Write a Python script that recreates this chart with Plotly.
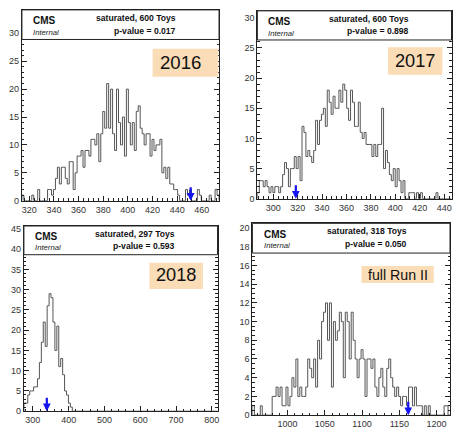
import numpy as np
import plotly.graph_objects as go

# ---------------- data ----------------
labels = ["2016", "2017", "2018", "full Run II"]
toys = [600, 600, 297, 318]
pvalues = ["0.017", "0.898", "0.593", "0.050"]
observed = [451, 318.5, 339, 1162]          # observed test statistic (blue arrows)
x_ranges = [(314, 474), (287, 446), (275, 816), (953, 1218)]

counts_2016 = [1,0,0,0,0,1,0,0,2,0, 0,0,0,2,2,1,2,4,6,3,
               6,6,4,3,7,7,2,5,8,8, 9,6,9,9,8,11,11,10,12,7,
               12,16,13,21,13,20,12,9,20,14, 10,15,8,20,14,10,14,9,16,17,
               13,12,10,12,12,8,11,9,10,10, 11,5,6,4,6,3,3,2,2,1,
               0,0,0,2,1,2,0,0,0,2, 1,0,0,0,0,1,0,0,2,1]
counts_2017 = [1,3,3,2,3,2,1,2,1,2, 2,1,2,4,6,5,2,5,5,7,
               5,7,3,12,11,7,8,7,6,8, 13,9,13,14,15,12,18,16,14,17,
               15,15,18,16,19,18,15,13,18,16, 12,12,16,11,10,11,9,9,9,7,
               9,7,9,9,15,5,8,6,4,3, 5,2,5,3,1,3,0,0,1,1,
               1,0,1,0,1,0,0,0,0,0, 0,0,1,0,0,0,0,0,0,0]
counts_2018 = [2,2,4,5,5,6,6,8,12,17, 22,16,26,29,28,22,15,21,11,13,
               9,5,4,2,1] + [0] * 75
counts_run2 = [1,0,0,0,1,0,0,0,0,0, 2,2,3,2,3,1,1,3,1,2,
               4,3,6,2,3,2,2,3,6,5, 4,6,3,8,6,10,11,12,8,12,
               3,10,8,9,11,10,4,11,10,6, 11,8,6,4,6,7,6,2,6,6,
               5,6,3,2,4,5,3,2,5,6, 4,3,2,3,2,1,2,2,1,3,
               3,1,3,1,1,1,0,1,0,1, 0,0,0,0,0,0,0,1,1,0]
all_counts = [counts_2016, counts_2017, counts_2018, counts_run2]

# ---------------- layout helpers ----------------
y_max = [34.2, 31.15, 45.7, 20.5]
x_dtick = [20, 20, 100, 50]
x_minor = [4, 4, 20, 10]
y_dtick = [5, 5, 5, 2]
y_minor = [1, 1, 1, 0.5]
x_dom = [(0.0485, 0.4846), (0.5694, 0.9989), (0.0529, 0.4813), (0.5584, 0.9956)]
y_dom = [(0.5291, 0.9813), (0.5338, 0.9790), (0.0303, 0.4692), (0.0210, 0.4755)]
tag_box = [(0.663, 0.996, 0.649, 0.797), (0.673, 0.953, 0.660, 0.806),
           (0.648, 0.925, 0.660, 0.802), (0.552, 0.918, 0.689, 0.778)]
tag_txt = [(0.806, 0.723, 18.6), (0.813, 0.733, 18.2), (0.787, 0.733, 18.2), (0.737, 0.733, 14.2)]

FONT = "Liberation Sans, Arial, Helvetica, sans-serif"

fig = go.Figure()
shapes = []
annotations = []

for k in range(4):
    n = "" if k == 0 else str(k + 1)
    xa, ya = "x" + n, "y" + n
    lo, hi = x_ranges[k]
    c = np.asarray(all_counts[k], dtype=float)
    edges = np.linspace(lo, hi, len(c) + 1)
    xs = np.concatenate([[edges[0]], edges[:-1], [edges[-1], edges[-1]]])
    ys = np.concatenate([[0], c, [c[-1], 0]])
    fig.add_trace(go.Scatter(x=xs, y=ys, mode="lines", line=dict(color="#555555", width=1, shape="hv"),
                             xaxis=xa, yaxis=ya, showlegend=False, hoverinfo="skip"))

    axis_common = dict(showline=True, linecolor="#222", linewidth=1, mirror="allticks",
                       ticks="inside", ticklen=5, tickcolor="#222", tickwidth=1,
                       showgrid=False, zeroline=False,
                       tickfont=dict(family=FONT, size=9, color="#333"))
    fig.layout["xaxis" + n] = dict(axis_common, domain=list(x_dom[k]), anchor=ya, range=[lo, hi],
                                   dtick=x_dtick[k], tick0=0,
                                   minor=dict(ticks="inside", ticklen=2.5, dtick=x_minor[k], tickcolor="#222"))
    fig.layout["yaxis" + n] = dict(axis_common, domain=list(y_dom[k]), anchor=xa, range=[0, y_max[k]],
                                   dtick=y_dtick[k], tick0=0,
                                   minor=dict(ticks="inside", ticklen=2.5, dtick=y_minor[k], tickcolor="#222"))

    xd, yd = xa + " domain", ya + " domain"
    # header pave
    shapes.append(dict(type="rect", xref=xd, yref=yd, x0=0, x1=1, y0=0.845, y1=1,
                       fillcolor="white", line=dict(color="#222", width=1), layer="above"))
    # tag box
    bx0, bx1, by0, by1 = tag_box[k]
    shapes.append(dict(type="rect", xref=xd, yref=yd, x0=bx0, x1=bx1, y0=by0, y1=by1,
                       fillcolor="#FADCB6", line=dict(width=0), layer="above"))
    tx, ty, ts = tag_txt[k]
    annotations.append(dict(xref=xd, yref=yd, x=tx, y=ty, text=labels[k], showarrow=False,
                            font=dict(family=FONT, size=ts, color="#111"), xanchor="center", yanchor="middle"))
    annotations.append(dict(xref=xd, yref=yd, x=0.047, y=0.943, text="<b>CMS</b>", showarrow=False,
                            font=dict(family=FONT, size=10, color="#111"), xanchor="left", yanchor="middle"))
    annotations.append(dict(xref=xd, yref=yd, x=0.047, y=0.882, text="<i>Internal</i>", showarrow=False,
                            font=dict(family=FONT, size=7.7, color="#222"), xanchor="left", yanchor="middle"))
    annotations.append(dict(xref=xd, yref=yd, x=0.79, y=0.958, text="<b>saturated, %d Toys</b>" % toys[k],
                            showarrow=False, font=dict(family=FONT, size=8.6, color="#111"),
                            xanchor="right", yanchor="middle"))
    annotations.append(dict(xref=xd, yref=yd, x=0.79, y=0.892, text="<b>p-value = %s</b>" % pvalues[k],
                            showarrow=False, font=dict(family=FONT, size=8.6, color="#111"),
                            xanchor="right", yanchor="middle"))
    # observed value arrow
    annotations.append(dict(xref=xa, yref=ya, x=observed[k], y=0, ax=0, ay=-15, text="",
                            showarrow=True, arrowhead=2, arrowsize=0.7, arrowwidth=2.2,
                            arrowcolor="#1414f0", standoff=0))

fig.update_layout(width=454, height=429, margin=dict(l=0, r=0, t=0, b=0),
                  paper_bgcolor="white", plot_bgcolor="white",
                  shapes=shapes, annotations=annotations, showlegend=False)

fig.write_html("out.html")
